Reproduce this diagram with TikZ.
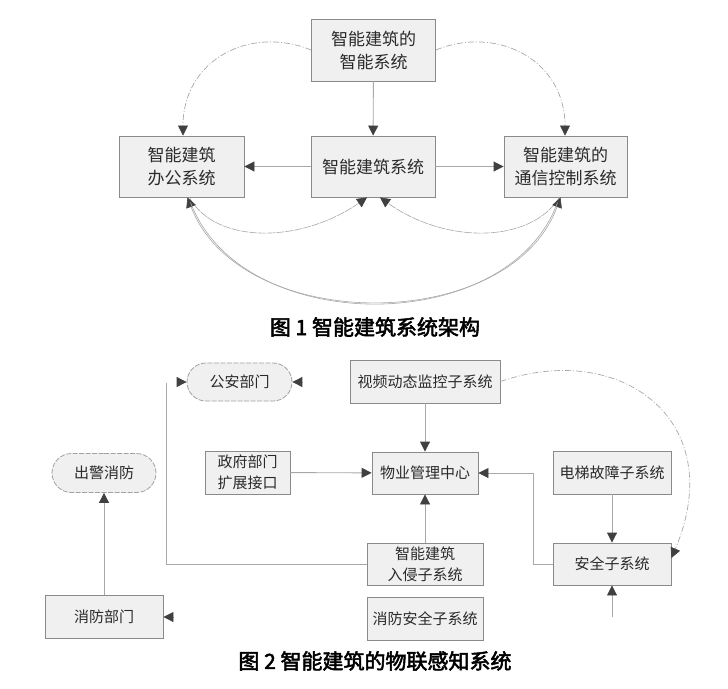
\documentclass[tikz,border=0pt]{standalone}
\usepackage{fontspec}
\newfontfamily\cjk{Noto Sans CJK SC}
\newfontfamily\cjkb[FakeBold=2.5]{Noto Sans CJK SC}
\usetikzlibrary{arrows.meta,shapes.misc}
\definecolor{boxfill}{HTML}{F0F0F0}
\definecolor{boxline}{HTML}{8A8A8A}
\definecolor{linec}{HTML}{A8A8A8}
\definecolor{tipc}{HTML}{404040}
\definecolor{txt}{HTML}{2A2A2A}
\begin{document}
\begin{tikzpicture}[x=1pt,y=-1pt,
  box/.style={draw=boxline, fill=boxfill, line width=0.9pt, align=center, text=txt, inner sep=0pt},
  topbox/.style={box, minimum width=124pt, minimum height=61pt, font=\cjk\fontsize{17}{23}\selectfont},
  sbox/.style={box, font=\cjk\fontsize{15}{21}\selectfont},
  pill/.style={sbox, rounded rectangle, draw=boxline!80, dash pattern=on 5pt off 1.5pt, line width=0.8pt},
  conn/.style={draw=linec, line width=0.9pt},
  arr/.style={conn, -{Triangle[length=10pt,width=10pt,color=tipc,fill=tipc]}},
  sarr/.style={conn, -{Triangle[length=10pt,width=10pt,color=tipc,fill=tipc]}},
  barr/.style={conn, {Triangle[length=10pt,width=10pt,color=tipc,fill=tipc]}-{Triangle[length=10pt,width=10pt,color=tipc,fill=tipc]}},
  dd/.style={dash pattern=on 6pt off 2pt on 1pt off 2pt, line width=0.7pt},
  captxt/.style={font=\cjkb\fontsize{21}{24}\selectfont, text=black}
]
\fill[white] (0,0) rectangle (728,688);
\useasboundingbox (0,0) rectangle (728,688);

% ---------- Figure 1 ----------
\node[topbox, minimum height=62pt] (top) at (373.5,50) {智能建筑的\\智能系统};
\node[topbox, minimum width=125pt] (off) at (181.5,166.5) {智能建筑\\办公系统};
\node[topbox] (mid) at (373,166.5) {智能建筑系统};
\node[topbox, minimum width=123pt] (com) at (565.5,166.5) {智能建筑的\\通信控制系统};

\draw[arr] (top) -- (mid);
\draw[arr] (mid) -- (off);
\draw[arr] (mid) -- (com);
\draw[arr, dd] (top.west) .. controls (250,25) and (183,60) .. ([xshift=1.5pt]off.north);
\draw[arr, dd] (top.east) .. controls (497,25) and (565,60) .. ([xshift=-0.5pt]com.north);

\draw[arr, line width=0.6pt, dash pattern=on 8pt off 1pt] ([xshift=8pt]off.south) .. controls (215,244) and (300,244) .. ([xshift=-6pt]mid.south);
\draw[arr, line width=0.6pt, dash pattern=on 8pt off 1pt] ([xshift=-6pt]com.south) .. controls (530,244) and (445,244) .. ([xshift=7pt]mid.south);
\draw[barr, line width=0.6pt] ([xshift=6pt]off.south) .. controls (240,335) and (510,335) .. ([xshift=-5pt]com.south);
\draw[conn, line width=0.6pt] ([xshift=9pt,yshift=-5pt]off.south) .. controls (242,338) and (508,338) .. ([xshift=-8pt,yshift=-5pt]com.south);

\node[captxt] (cap1) at (375,327) {图 1 智能建筑系统架构};

% ---------- Figure 2 ----------
\node[pill, minimum width=105pt, minimum height=38pt] (ga) at (239.5,382) {公安部门};
\node[sbox, minimum width=150pt, minimum height=43pt] (sp) at (425,381.5) {视频动态监控子系统};
\node[sbox, minimum width=106pt, minimum height=42pt] (wy) at (425,473) {物业管理中心};
\node[sbox, minimum width=85pt, minimum height=43pt] (zf) at (247.5,472.5) {政府部门\\扩展接口};
\node[pill, minimum width=104pt, minimum height=39pt] (cj) at (104,473) {出警消防};
\node[sbox, minimum width=118pt, minimum height=43pt] (dt) at (612,472.5) {电梯故障子系统};
\node[sbox, minimum width=118pt, minimum height=42pt] (aq) at (612,564) {安全子系统};
\node[sbox, minimum width=116pt, minimum height=42pt] (rq) at (425,564) {智能建筑\\入侵子系统};
\node[sbox, minimum width=116pt, minimum height=43pt] (xa) at (425,618.5) {消防安全子系统};
\node[sbox, minimum width=118pt, minimum height=43pt] (xf) at (104,617) {消防部门};

\draw[sarr] (sp) -- (wy);
\draw[sarr] (zf) -- (wy);
\draw[sarr] (rq) -- (wy);
\draw[sarr] (dt) -- (aq);
\draw[sarr] (aq.west) -- (533,564) |- (wy.east);
\draw[conn] (rq.west) -| (166,383);
\coordinate (gaL) at (177,382);
\coordinate (gaR) at (302,382);
\draw[sarr] (gaL) -- (ga.west);
\draw[sarr] (gaR) -- (ga.east);
\draw[sarr] (xf.north) -- (cj.south);
\coordinate (xfR) at (174,617);
\draw[sarr] (xfR) -- (xf.east);
\coordinate (aqB) at (612,617);
\draw[sarr] (aqB) -- (aq.south);
\draw[sarr, dd] (sp.east) .. controls (620,340) and (730,420) .. ([yshift=6pt]aq.east);

\node[captxt] (cap2) at (375,661) {图 2 智能建筑的物联感知系统};
\end{tikzpicture}
\end{document}
